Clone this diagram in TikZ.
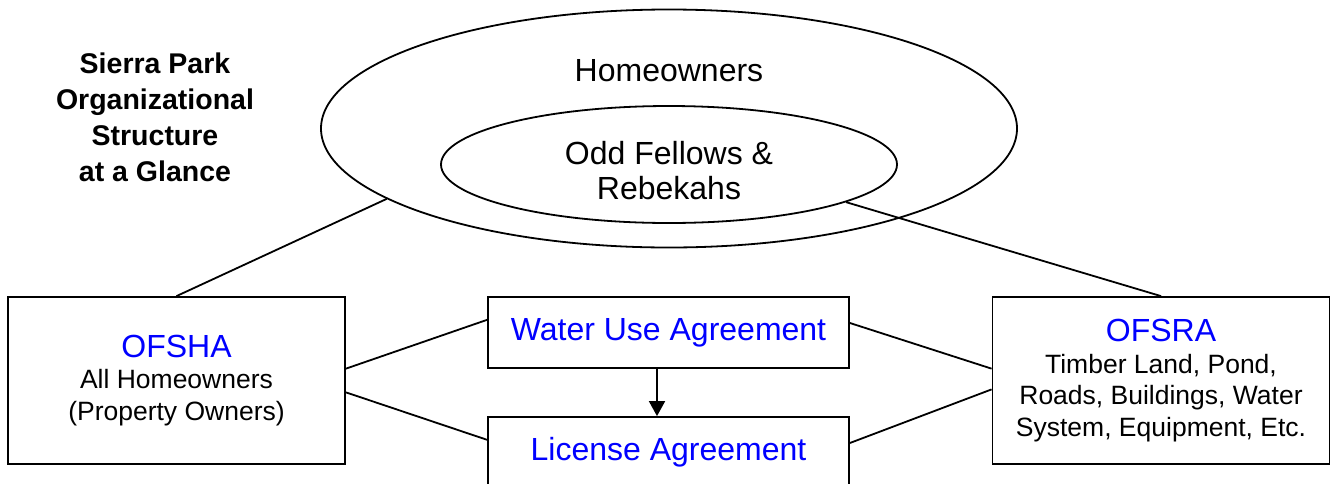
\documentclass[tikz,border=0pt]{standalone}
\usepackage{fontspec}
\setmainfont{Liberation Sans}
\usetikzlibrary{shapes.geometric, arrows.meta}

\begin{document}
\begin{tikzpicture}[x=1pt, y=-1pt, line width=1.8pt,
    caja/.style={draw, rectangle, minimum width=337pt, minimum height=167pt,
        align=center, font=\fontsize{26.5}{31.5}\selectfont},
    acuerdo/.style={draw, rectangle, minimum width=361pt, minimum height=71pt,
        text=blue, font=\fontsize{32}{36}\selectfont},
    ovalo/.style={draw, ellipse, inner sep=0pt},
    grande/.style={font=\fontsize{32}{35}\selectfont, align=center}]

    \useasboundingbox (0,0) rectangle (1331,483);
    \clip (0,0) rectangle (1331,483);

    %titulo
    \node[font=\bfseries\fontsize{28.5}{36}\selectfont, align=center] (titulo) at (155,117)
    {Sierra Park\\Organizational\\Structure\\at a Glance};

    %ovalos
    \node[ovalo, minimum width=696pt, minimum height=238pt] (duenos) at (669,128.5) {};
    \node[ovalo, minimum width=456pt, minimum height=117pt] (odd) at (669,164.5) {};
    \node[grande] (home) at (669,70.5) {Homeowners};
    \node[grande] (rebekahs) at (669,170.5) {Odd Fellows \&\\Rebekahs};

    %cajas de los lados
    \node[caja] (ofsha) at (176.5,380.5)
    {\textcolor{blue}{\fontsize{32}{31.5}\selectfont OFSHA}\\All Homeowners\\(Property Owners)};
    \node[caja] (ofsra) at (1161,380.5)
    {\textcolor{blue}{\fontsize{32}{31.5}\selectfont OFSRA}\\Timber Land, Pond,\\Roads, Buildings, Water\\System, Equipment, Etc.};

    %acuerdos
    \node[acuerdo] (agua) at (668.5,332.5) {Water Use Agreement};
    \node[acuerdo] (licencia) at (668.5,452.5) {License Agreement};

    %lineas
    \draw (duenos.194.7) -- (ofsha.north);
    \draw (odd.348.6) -- (ofsra.north);
    \draw (ofsha.4) -- (agua.176.35);
    \draw (ofsha.-4) -- (licencia.176.35);
    \draw (agua.3.8) -- (ofsra.176.1);
    \draw (licencia.3.8) -- (ofsra.183.9);
    \draw[-{Triangle[width=16pt, length=15pt]}] ([xshift=-11.5pt]agua.south) -- ([xshift=-11.5pt]licencia.north); %flecha

\end{tikzpicture}
\end{document}
